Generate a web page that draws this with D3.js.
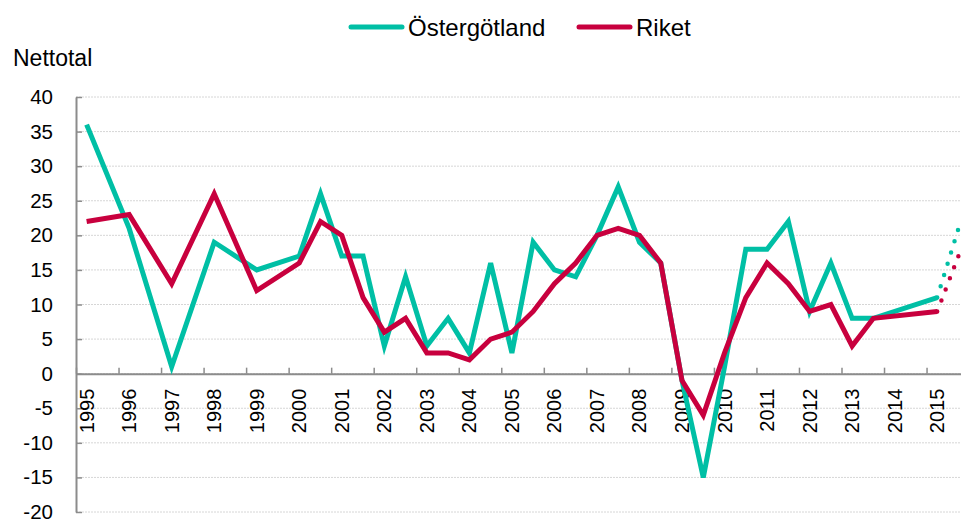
<!DOCTYPE html>
<html>
<head>
<meta charset="utf-8">
<script src="https://cdn.jsdelivr.net/npm/d3@7"></script>
<style>
  body { margin: 0; background: #fff; }
  text { font-family: "Liberation Sans", Arial, sans-serif; fill: #000; }
</style>
</head>
<body>
<script>
(function () {

// data: half-year surveys (spring = .25, autumn = .75), annual until 2000
var periods = [1995.25, 1996.25, 1997.25, 1998.25, 1999.25,
  2000.25, 2000.75, 2001.25, 2001.75, 2002.25, 2002.75, 2003.25, 2003.75,
  2004.25, 2004.75, 2005.25, 2005.75, 2006.25, 2006.75, 2007.25, 2007.75,
  2008.25, 2008.75, 2009.25, 2009.75, 2010.25, 2010.75, 2011.25, 2011.75,
  2012.25, 2012.75, 2013.25, 2013.75, 2015.25];

var ostergotland = [36, 21, 1, 19, 15,
  17, 26, 17, 17, 4, 14, 4, 8,
  3, 16, 3, 19, 15, 14, 20, 27,
  19, 16, -1, -15, 1, 18, 18, 22,
  9, 16, 8, 8, 11];

var riket = [22, 23, 13, 26, 12,
  16, 22, 20, 11, 6, 8, 3, 3,
  2, 5, 6, 9, 13, 16, 20, 21,
  20, 16, -1, -6, 3, 11, 16, 13,
  9, 10, 4, 8, 9];

// forecast (dotted)
var forecastPeriod = 2015.75;
var ostergotlandForecast = 21;
var riketForecast = 17;

var years = d3.range(1995, 2016);
var yTicks = d3.range(-20, 41, 5);

var seriesNames = ["Östergötland", "Riket"];
var colours = ["#00BFA5", "#C8003E"];

var width = 961;
var height = 520;

var svg = d3.select("body")
  .append("svg")
    .attr("width", width)
    .attr("height", height);

var x = d3.scaleLinear()
  .domain([1995, 2015.81])
  .range([76, 961]);

var y = d3.scaleLinear()
  .domain([-20, 40])
  .range([512, 97]);

// gridlines
svg.append("g")
  .selectAll("line")
  .data(yTicks)
  .enter()
  .append("line")
    .attr("x1", 76)
    .attr("x2", 960)
    .attr("y1", function(d) { return y(d); })
    .attr("y2", function(d) { return y(d); })
    .attr("stroke", "#d6d6d6")
    .attr("stroke-width", 1)
    .attr("stroke-dasharray", "2,1");

// y axis
var yAxis = svg.append("g")
  .attr("transform", "translate(76,0)")
  .call(d3.axisLeft(y)
    .tickValues(yTicks)
    .tickSizeInner(-6)
    .tickSizeOuter(0)
    .tickPadding(23)
    .tickFormat(function(d) { return String(d); }));

yAxis.select(".domain").attr("stroke", "#8c8c8c").attr("stroke-width", 2);
yAxis.selectAll(".tick line").attr("stroke", "#8c8c8c").attr("stroke-width", 1.5);
yAxis.selectAll(".tick text")
  .style("font-size", "20.5px")
  .style("font-family", "'Liberation Sans', Arial, sans-serif")
  .attr("fill", "#000");

// x axis on the zero line
var xAxis = svg.append("g")
  .attr("transform", "translate(0," + y(0) + ")")
  .call(d3.axisBottom(x)
    .tickValues(years)
    .tickSizeInner(-6)
    .tickSizeOuter(0)
    .tickFormat(""));

xAxis.select(".domain").attr("stroke", "#8c8c8c").attr("stroke-width", 2);
xAxis.selectAll(".tick line").attr("stroke", "#8c8c8c").attr("stroke-width", 1.5);

// year labels, rotated
svg.append("g")
  .selectAll("text")
  .data(years)
  .enter()
  .append("text")
    .attr("transform", function(d) {
      return "translate(" + x(d + 0.25) + "," + (y(0) + 15) + ") rotate(-90)";
    })
    .attr("dy", "0.35em")
    .attr("text-anchor", "end")
    .style("font-size", "20px")
    .text(function(d) { return d; });

// lines
var line = d3.line()
  .x(function(d) { return x(d.p); })
  .y(function(d) { return y(d.v); });

var seriesValues = [ostergotland, riket];
var forecasts = [ostergotlandForecast, riketForecast];

seriesValues.forEach(function(vals, i) {
  var pts = periods.map(function(p, j) { return { p: p, v: vals[j] }; });
  var last = pts[pts.length - 1];

  svg.append("path")
    .datum([last, { p: forecastPeriod, v: forecasts[i] }])
    .attr("d", line)
    .attr("fill", "none")
    .attr("stroke", colours[i])
    .attr("stroke-width", 4.5)
    .attr("stroke-linecap", "round")
    .attr("stroke-dasharray", "0,11.8");

  svg.append("path")
    .datum(pts)
    .attr("d", line)
    .attr("fill", "none")
    .attr("stroke", colours[i])
    .attr("stroke-width", 5)
    .attr("stroke-linejoin", "miter");
});

// y title
svg.append("text")
  .attr("x", 13)
  .attr("y", 66)
  .style("font-size", "23px")
  .text("Nettotal");

// legend
var legendX = [349, 577];
var legend = svg.selectAll(".legend")
  .data(seriesNames)
  .enter()
  .append("g")
    .attr("class", "legend")
    .attr("transform", function(d, i) { return "translate(" + legendX[i] + ",27)"; });

legend.append("line")
  .attr("x1", 2)
  .attr("x2", 53)
  .attr("stroke", function(d, i) { return colours[i]; })
  .attr("stroke-width", 5)
  .attr("stroke-linecap", "round");

legend.append("text")
  .attr("x", 59)
  .attr("y", 9)
  .style("font-size", "24px")
  .text(function(d) { return d; });

}());
</script>
</body>
</html>
